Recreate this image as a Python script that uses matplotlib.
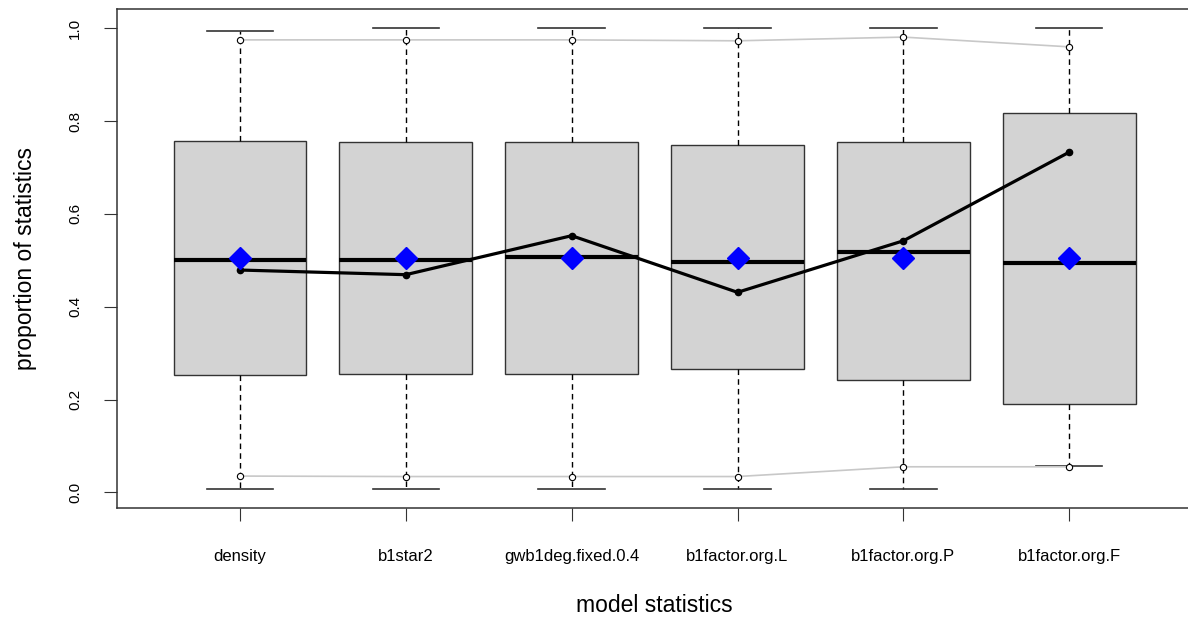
import matplotlib.pyplot as plt

plt.rcParams['font.family'] = ['Liberation Sans', 'DejaVu Sans']

stats = ["density", "b1star2", "gwb1deg.fixed.0.4", "b1factor.org.L",
         "b1factor.org.P", "b1factor.org.F"]

# box summaries
whisk_lo = [0.007, 0.007, 0.007, 0.007, 0.007, 0.056]
q1 = [0.253, 0.255, 0.255, 0.266, 0.242, 0.190]
med = [0.501, 0.500, 0.507, 0.496, 0.518, 0.494]
q3 = [0.757, 0.755, 0.755, 0.749, 0.755, 0.818]
whisk_hi = [0.994, 1.000, 1.000, 1.000, 1.000, 1.000]
means = [0.505, 0.505, 0.505, 0.505, 0.505, 0.505]

# observed statistic and simulated bounds
obs = [0.479, 0.469, 0.553, 0.431, 0.542, 0.733]
upper = [0.975, 0.975, 0.975, 0.973, 0.981, 0.960]
lower = [0.035, 0.034, 0.034, 0.034, 0.055, 0.055]

fig = plt.figure(figsize=(11.88, 6.23), dpi=100)
# right edge of the frame runs just past the picture, as in the original
ax = fig.add_axes([0.0987, 0.1846, 0.9046, 0.801])

pos = list(range(1, len(stats) + 1))
bxp = []
for i in range(len(stats)):
    bxp.append({"med": med[i], "q1": q1[i], "q3": q3[i],
                "whislo": whisk_lo[i], "whishi": whisk_hi[i], "fliers": []})

ax.bxp(bxp, positions=pos, widths=0.8, patch_artist=True, showfliers=False,
       boxprops=dict(facecolor="lightgray", edgecolor="#333333", linewidth=1),
       medianprops=dict(color="black", linewidth=3.0),
       whiskerprops=dict(color="black", linestyle=(0, (4, 3)), linewidth=1),
       capprops=dict(color="#333333", linewidth=1.2),
       capwidths=0.4)

ax.plot(pos, upper, color="#c8c8c8", linewidth=1.2, zorder=3)
ax.plot(pos, lower, color="#c8c8c8", linewidth=1.2, zorder=3)
ax.plot(pos, upper, "o", mfc="white", mec="black", ms=4.5, mew=0.8, zorder=4)
ax.plot(pos, lower, "o", mfc="white", mec="black", ms=4.5, mew=0.8, zorder=4)

ax.plot(pos, obs, color="black", linewidth=2.3, marker="o", ms=4.5, zorder=5)
ax.plot(pos, means, "D", color="blue", ms=11, linestyle="none", zorder=6)

ax.set_xlim(0.26, 6.74)
ax.set_ylim(-0.0338, 1.0416)
ax.set_xticks(pos)
ax.set_xticklabels(stats, fontsize=12)
ax.set_yticks([0.0, 0.2, 0.4, 0.6, 0.8, 1.0])
ax.set_yticklabels(["0.0", "0.2", "0.4", "0.6", "0.8", "1.0"], rotation=90,
                   va="center", fontsize=11)
ax.tick_params(axis="x", length=9.4, pad=20, color="#333333")
ax.tick_params(axis="y", length=9.4, pad=16, color="#333333")
for s in ax.spines.values():
    s.set_color("#333333")
    s.set_linewidth(1.1)

ax.set_xlabel("model statistics", fontsize=16.5, labelpad=22)
ax.set_ylabel("proportion of statistics", fontsize=16.5, labelpad=22)

fig.savefig("out.png", dpi=100)
